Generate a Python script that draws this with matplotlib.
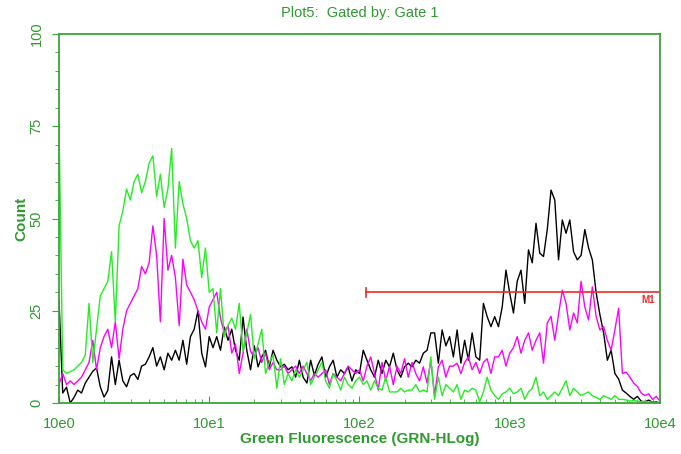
import numpy as np
import matplotlib
matplotlib.use("Agg")
import matplotlib.pyplot as plt
from matplotlib.ticker import FixedLocator, LogLocator, NullFormatter

# histogram channels: 40 per decade from 10^0 to 10^4
channels = 10 ** (np.arange(161) / 40.0)

green = [76, 9, 8, 8.5, 9, 10, 11, 13, 27, 11, 20, 29, 31, 33, 41, 22, 48, 52, 58, 55,
         60, 62, 57, 60, 65, 67, 56, 62, 53, 58, 69, 42, 60, 54, 50, 44, 42, 44, 34, 42,
         30, 31, 19, 31, 18, 21, 23, 20, 27, 14, 19, 24, 12, 16, 20, 8, 11, 13, 4, 12,
         5, 8, 6, 9, 7, 9, 11, 5, 7, 9, 11, 6, 4, 8, 6, 3.5, 7, 5, 4, 6,
         7, 5, 6, 3.5, 6, 4, 3.5, 7, 3, 3, 3, 4, 3, 3.5, 3.5, 5, 3, 3.5, 3, 12.5,
         1, 7, 2, 5, 4, 3, 5, 1, 3.5, 3, 4, 3.5, 0.3, 3, 7, 3.5, 2, 1, 2.5, 3,
         4, 2.5, 3, 4, 1, 3, 4, 7, 2, 3, 1, 2, 3, 2, 4, 6, 2, 4, 3, 2,
         2.5, 3, 2, 1.5, 1, 2, 1.5, 1, 2, 1, 1, 0.8, 0.5, 0.7, 0.5, 0.3, 0.5, 0.2, 0.3, 0.1,
         0]

magenta = [5, 8, 5, 6, 5, 6, 7, 9, 11, 17, 9, 15, 18, 20, 15, 22, 12, 20, 25, 27,
           29, 31, 37, 35, 38, 48, 40, 22, 50, 36, 40, 34, 21, 39, 32, 30, 28, 25, 22, 20,
           26, 28, 30, 23, 19, 21, 13.5, 16, 8, 13.5, 20, 14, 12.5, 15, 11, 13.5, 9, 11, 9, 9,
           10, 8, 9, 10, 8, 10, 8, 6, 8, 7, 8, 9, 5, 8, 7, 6, 8, 10, 9, 8,
           9, 6, 10, 12.5, 8, 3.5, 11, 6, 10, 5, 10, 8, 12, 7, 11, 8, 6, 9.8, 5.4, 11.6,
           2, 9.8, 11.6, 7, 10, 10, 10.8, 8, 11, 12.5, 9, 11, 8, 11, 12, 8, 12.5, 12.5, 14.3, 10,
           13.5, 15, 18, 13.5, 17, 19, 14.3, 17, 19, 10.8, 21.7, 23.5, 17, 24, 30.6, 27, 19.8, 24.4, 21.7, 33,
           26, 22.5, 31.5, 23.5, 19.8, 20.7, 17, 14.3, 19.8, 25.7, 8, 8.4, 7, 5.4, 4.5, 2.7, 2, 2.5, 1, 1.8,
           0.5]

black = [28, 2.7, 4.3, 0, 1.5, 3.5, 2.7, 5.4, 7, 8.6, 9.5, 4.4, 1.6, 3.4, 12.5, 5, 11.6, 6, 4.4, 7.4,
         8, 6.4, 10, 10.5, 12.5, 15, 10, 12.5, 9, 13.5, 11.6, 14.3, 11.6, 17, 10.5, 18, 20, 25, 13.5, 9.8,
         18, 15, 18, 14.3, 20.6, 17, 20, 14.3, 11.6, 23.3, 14.3, 9, 15.5, 9.8, 12.5, 14.3, 9.8, 14.3, 11.6, 9.8,
         10.5, 9, 9.8, 7, 11.6, 7, 5.4, 11.6, 7.5, 10.5, 12.5, 7, 9.8, 11.6, 7, 9, 8, 9.8, 6, 9,
         8, 14.3, 11.6, 9, 7, 11.6, 8, 11.6, 9.8, 13.5, 9, 7, 9.8, 10.8, 9.8, 11.6, 10.8, 13.5, 14.3, 19,
         19, 10.8, 19.8, 15.5, 18, 12.5, 19.8, 10.8, 17, 11.6, 19, 12.5, 11.6, 27, 23.4, 20.7, 23.4, 20.7, 26, 36,
         29.8, 24.4, 33, 36, 27, 41.5, 38, 48.7, 40.6, 39.7, 47, 57.7, 55, 38.8, 49.6, 46, 49.6, 41, 38.8, 40,
         47, 42, 38.8, 30, 24, 19, 11.6, 14.3, 8, 6.5, 3.5, 2.7, 1.8, 1, 1.8, 0.5, 0.3, 0.8, 0.2, 0.3,
         0]

marker_name = "M1"
marker_range = [110, 10000]
marker_level = 30

x_ticks = [1, 10, 100, 1000, 10000]
x_tick_labels = ["10e0", "10e1", "10e2", "10e3", "10e4"]
y_ticks = [0, 25, 50, 75, 100]

plt.rcParams['font.family'] = ['Liberation Sans Narrow', 'Liberation Sans', 'DejaVu Sans']

text_green = "#2f9a2f"
axis_green = "#3aa53a"

fig = plt.figure(figsize=(6.81, 4.54), dpi=100)
ax = fig.add_axes([0.0866, 0.1123, 0.8825, 0.8128])

ax.plot(channels, black, color="black", lw=1.0)
ax.plot(channels, magenta, color="#ff00ff", lw=1.0)
ax.plot(channels, green, color="#22ee22", lw=1.0)

# M1 marker
ax.plot(marker_range, [marker_level, marker_level], color="#f02a2a", lw=1.2)
ax.plot([marker_range[0]] * 2, [marker_level - 1.2, marker_level + 1.2], color="#f02a2a", lw=1.2)
ax.text(9300, marker_level - 0.8, marker_name, color="#f02a2a", fontsize=7,
        ha="right", va="top", fontweight="bold")

ax.set_xscale("log")
ax.set_xlim(1, 10000)
ax.set_ylim(0, 100)

ax.xaxis.set_major_locator(FixedLocator(x_ticks))
ax.set_xticklabels(x_tick_labels)
ax.xaxis.set_minor_locator(LogLocator(base=10, subs=np.arange(2, 10)))
ax.xaxis.set_minor_formatter(NullFormatter())
ax.set_yticks(y_ticks)
ax.set_yticks(np.arange(0, 101, 5), minor=True)
for lab in ax.get_yticklabels():
    lab.set_rotation(90)
    lab.set_va("center")

ax.tick_params(axis="x", which="both", direction="in", color=axis_green,
               labelcolor=text_green, labelsize=10.5, pad=10)
ax.tick_params(axis="x", which="major", length=5)
ax.tick_params(axis="x", which="minor", length=3)
ax.tick_params(axis="y", which="both", direction="out", color=axis_green,
               labelcolor=text_green, labelsize=10.5, pad=6)
ax.tick_params(axis="y", which="major", length=5)
ax.tick_params(axis="y", which="minor", length=3)
ax.tick_params(axis="x", which="both", top=False)

for s in ax.spines.values():
    s.set_color(axis_green)
    s.set_linewidth(1.3)

ax.set_title("Plot5:  Gated by: Gate 1", color=text_green, fontsize=10.5, pad=12)
ax.set_xlabel("Green Fluorescence (GRN-HLog)", color=text_green, fontsize=11,
              fontweight="bold", labelpad=1)
ax.set_ylabel("Count", color=text_green, fontsize=11, fontweight="bold", labelpad=1)

fig.savefig("out.png", dpi=100)
